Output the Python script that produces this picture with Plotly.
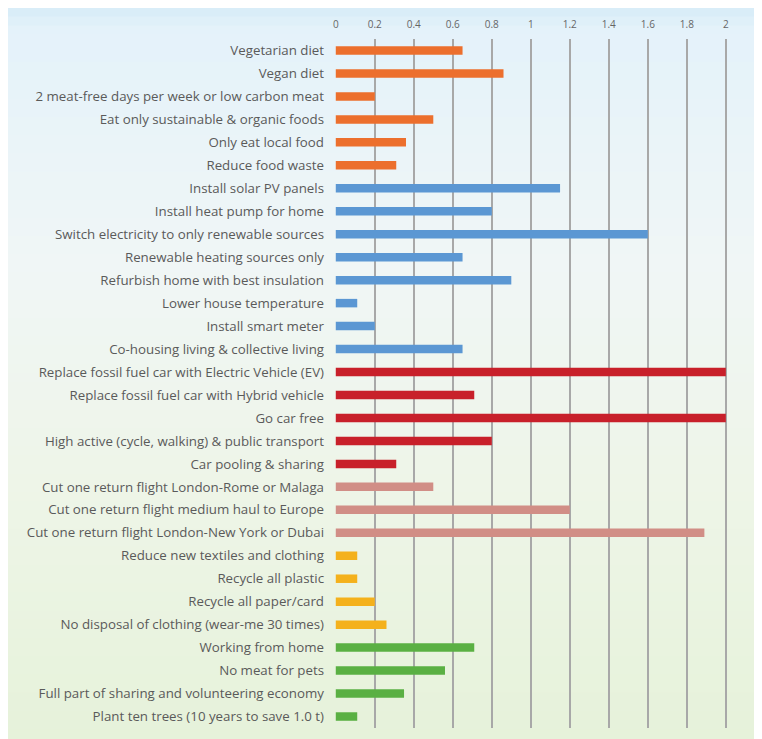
import plotly.graph_objects as go

categories = [
    "Vegetarian diet", "Vegan diet", "2 meat-free days per week or low carbon meat",
    "Eat only sustainable & organic foods", "Only eat local food", "Reduce food waste",
    "Install solar PV panels", "Install heat pump for home", "Switch electricity to only renewable sources",
    "Renewable heating sources only", "Refurbish home with best insulation", "Lower house temperature",
    "Install smart meter", "Co-housing living & collective living",
    "Replace fossil fuel car with Electric Vehicle (EV)", "Replace fossil fuel car with Hybrid vehicle",
    "Go car free", "High active (cycle, walking) & public transport", "Car pooling & sharing",
    "Cut one return flight London-Rome or Malaga", "Cut one return flight medium haul to Europe",
    "Cut one return flight London-New York or Dubai",
    "Reduce new textiles and clothing", "Recycle all plastic", "Recycle all paper/card",
    "No disposal of clothing (wear-me 30 times)",
    "Working from home", "No meat for pets", "Full part of sharing and volunteering economy",
    "Plant ten trees (10 years to save 1.0 t)",
]
values = [
    0.65, 0.86, 0.2, 0.5, 0.36, 0.31,
    1.15, 0.8, 1.6, 0.65, 0.9, 0.11, 0.2, 0.65,
    2.0, 0.71, 2.0, 0.8, 0.31,
    0.5, 1.2, 1.89,
    0.11, 0.11, 0.2, 0.26,
    0.71, 0.56, 0.35, 0.11,
]
groups = (["food"] * 6 + ["home"] * 8 + ["car"] * 5 + ["flight"] * 3 + ["waste"] * 4 + ["other"] * 4)
group_colors = {
    "food": "#EC6F2D", "home": "#5B97D3", "car": "#C8202A",
    "flight": "#D18E86", "waste": "#F4B11C", "other": "#5AB043",
}
tick_vals = [0, 0.2, 0.4, 0.6, 0.8, 1, 1.2, 1.4, 1.6, 1.8, 2]
tick_text = ["0", "0.2", "0.4", "0.6", "0.8", "1", "1.2", "1.4", "1.6", "1.8", "2"]

# page has an 8px body margin, so the figure is offset by 8px
W, H = 754, 731
ML, MR, MT, MB = 327, 35, 31, 11

fig = go.Figure()
fig.add_trace(go.Bar(
    x=values, y=categories, orientation="h",
    marker=dict(color=[group_colors[g] for g in groups], line=dict(width=0)),
    width=0.37, hoverinfo="x+y",
))

def lerp(c1, c2, t):
    return tuple(round(a + (b - a) * t) for a, b in zip(c1, c2))

stops = [(0.0, (214, 236, 247)), (0.03, (228, 242, 250)), (0.35, (240, 246, 246)),
         (0.65, (238, 245, 232)), (1.0, (230, 242, 218))]
ph = H - MT - MB
pw = W - ML - MR
n = 80
shapes = []
for i in range(n):
    t0, t1 = i / n, (i + 1) / n
    tm = (t0 + t1) / 2
    for j in range(len(stops) - 1):
        if stops[j][0] <= tm <= stops[j + 1][0]:
            tt = (tm - stops[j][0]) / (stops[j + 1][0] - stops[j][0])
            col = lerp(stops[j][1], stops[j + 1][1], tt)
            break
    ytop = 1 + MT / ph - t0 * H / ph
    ybot = 1 + MT / ph - t1 * H / ph
    shapes.append(dict(type="rect", xref="paper", yref="paper",
                       x0=-ML / pw - 0.01, x1=1 + MR / pw + 0.01,
                       y0=ybot - 0.001, y1=ytop + 0.001,
                       fillcolor="rgb(%d,%d,%d)" % col, line=dict(width=0), layer="below"))

fig.update_layout(
    width=W, height=H,
    margin=dict(l=ML, r=MR, t=MT, b=MB, autoexpand=False),
    paper_bgcolor="rgb(228,242,250)", plot_bgcolor="rgba(0,0,0,0)",
    shapes=shapes, showlegend=False, bargap=0.6,
    font=dict(family="Open Sans, Lato, sans-serif", color="#5a5a5a"),
)
fig.update_xaxes(
    side="top", range=[-0.004, 2.006], tickvals=tick_vals, ticktext=tick_text,
    showgrid=True, gridcolor="#a8a8a8", gridwidth=1.6, zeroline=False,
    showline=False, ticks="outside", ticklen=6, tickcolor="rgba(0,0,0,0)",
    tickfont=dict(size=10, color="#666666"), fixedrange=True,
)
fig.update_yaxes(
    autorange="reversed", showgrid=False, zeroline=False, showline=False,
    ticks="", ticklabelstandoff=10, tickfont=dict(size=13.3, color="#5a5a5a"),
    fixedrange=True,
)
fig.write_html("out.html")
